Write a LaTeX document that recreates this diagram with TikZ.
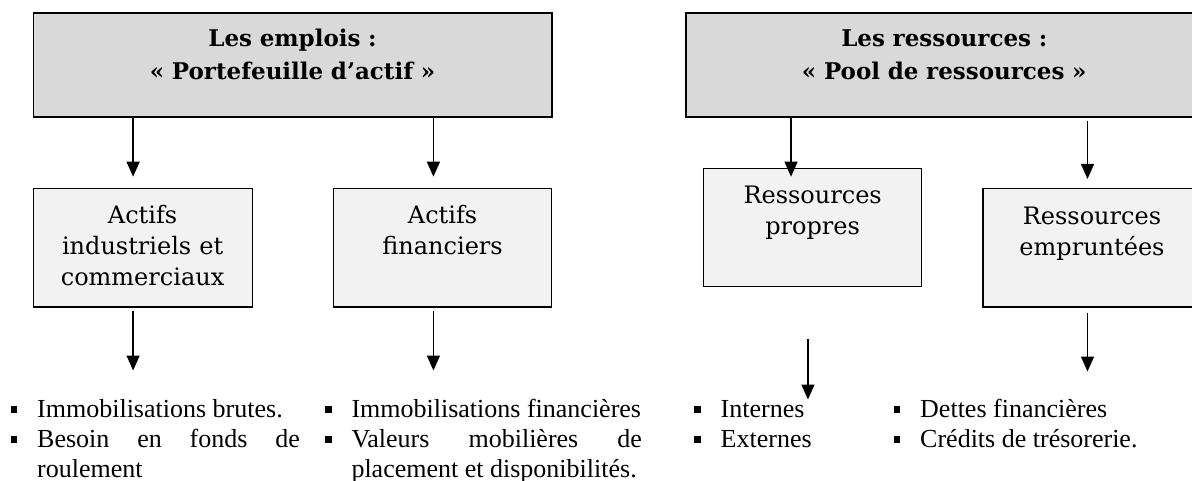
\documentclass[tikz,border=0pt]{standalone}
\usepackage{fontspec}
\setmainfont{Liberation Serif}
\newfontfamily\slabfont{DejaVu Serif}
\usetikzlibrary{arrows.meta,positioning}
\definecolor{grisfonce}{HTML}{D9D9D9}
\definecolor{grisclair}{HTML}{F2F2F2}
\newcommand{\puce}{\noindent\llap{\rule[4.3pt]{6.5pt}{6.5pt}\hspace{20pt}}}

\begin{document}
\begin{tikzpicture}[x=1pt,y=-1pt,
	titre/.style={draw,line width=1.6pt,fill=grisfonce,anchor=north west,minimum height=104pt},
	titretxt/.style={font=\slabfont\fontsize{23}{33}\selectfont\bfseries,align=center,text width=500pt,inner sep=0pt,anchor=base},
	boite/.style={draw,line width=1.2pt,fill=grisclair,anchor=north west,minimum height=118pt},
	boitetxt/.style={font=\slabfont\fontsize{24}{31}\selectfont,align=center,text width=214pt,inner sep=0pt,anchor=base},
	fleche/.style={-{Triangle[width=13pt,length=15pt]},line width=1.4pt},
	liste/.style={font=\fontsize{26}{30}\selectfont,align=justify,inner sep=0pt,anchor=base west}]
	\useasboundingbox (0,0) rectangle (1192,481);
	% les emplois
	\node[titre,minimum width=518.5pt] (emplois) at (32.5,12) {};
	\node[titretxt] (templois) at ([yshift=-34.7pt]emplois.north) {Les emplois :\\« Portefeuille d’actif »};
	\node[boite,minimum width=219pt] (aic) at (32.5,188.3) {};
	\node[boitetxt] (taic) at ([yshift=-35.7pt]aic.north) {Actifs\\industriels et\\commerciaux};
	\node[boite,minimum width=218pt] (af) at (333,188.3) {};
	\node[boitetxt] (taf) at ([yshift=-35.7pt]af.north) {Actifs\\financiers};
	\draw[fleche] ([xshift=-9.5pt]aic.north |- emplois.south) -- ([xshift=-9.5pt,yshift=11.6pt]aic.north);
	\draw[fleche] ([xshift=-9.2pt]af.north |- emplois.south) -- ([xshift=-9.2pt,yshift=11.6pt]af.north);
	\draw[fleche] ([xshift=-9.5pt,yshift=-3pt]aic.south) -- ([xshift=-9.5pt,yshift=-63pt]aic.south);
	\draw[fleche] ([xshift=-9.2pt,yshift=-3pt]af.south) -- ([xshift=-9.2pt,yshift=-63pt]af.south);
	% les ressources
	\node[titre,minimum width=540pt] (ressources) at (685.2,12) {};
	\node[titretxt] (tressources) at ([xshift=259.1pt,yshift=-34.7pt]ressources.north west) {Les ressources :\\« Pool de ressources »};
	\node[boite,minimum width=217.7pt] (rp) at (703.2,168) {};
	\node[boitetxt] (trp) at ([yshift=-36pt]rp.north) {Ressources\\propres};
	\node[boite,minimum width=260pt] (re) at (982.3,188.3) {};
	\node[boitetxt] (tre) at ([xshift=109.7pt,yshift=-36pt]re.north west) {Ressources\\empruntées};
	\draw[fleche] ([xshift=-21.6pt]rp.north |- ressources.south) -- ([xshift=-21.6pt,yshift=-8.7pt]rp.north);
	\draw[fleche] ([xshift=105.2pt,yshift=-3pt]re.north west |- ressources.south) -- ([xshift=105.2pt,yshift=9.3pt]re.north west);
	\draw[fleche] ([xshift=-4.7pt,yshift=-51.7pt]rp.south) -- ([xshift=-4.7pt,yshift=-112.3pt]rp.south);
	\draw[fleche] ([xshift=105.2pt,yshift=-5pt]re.south west) -- ([xshift=105.2pt,yshift=-64pt]re.south west);
	% les listes
	\node[liste,text width=262.7pt] (lemp1) at (37,417) {\puce Immobilisations brutes.\par\puce Besoin en fonds de\linebreak roulement};
	\node[liste,text width=290.5pt] (lemp2) at (351.3,417) {\puce Immobilisations financières\par\puce Valeurs mobilières de\linebreak placement et disponibilités.};
	\node[liste,text width=150pt] (lres1) at (720.5,417) {\puce Internes\par\puce Externes};
	\node[liste,text width=260pt] (lres2) at (920,417) {\puce Dettes financières\par\puce Crédits de trésorerie.};
\end{tikzpicture}
\end{document}
